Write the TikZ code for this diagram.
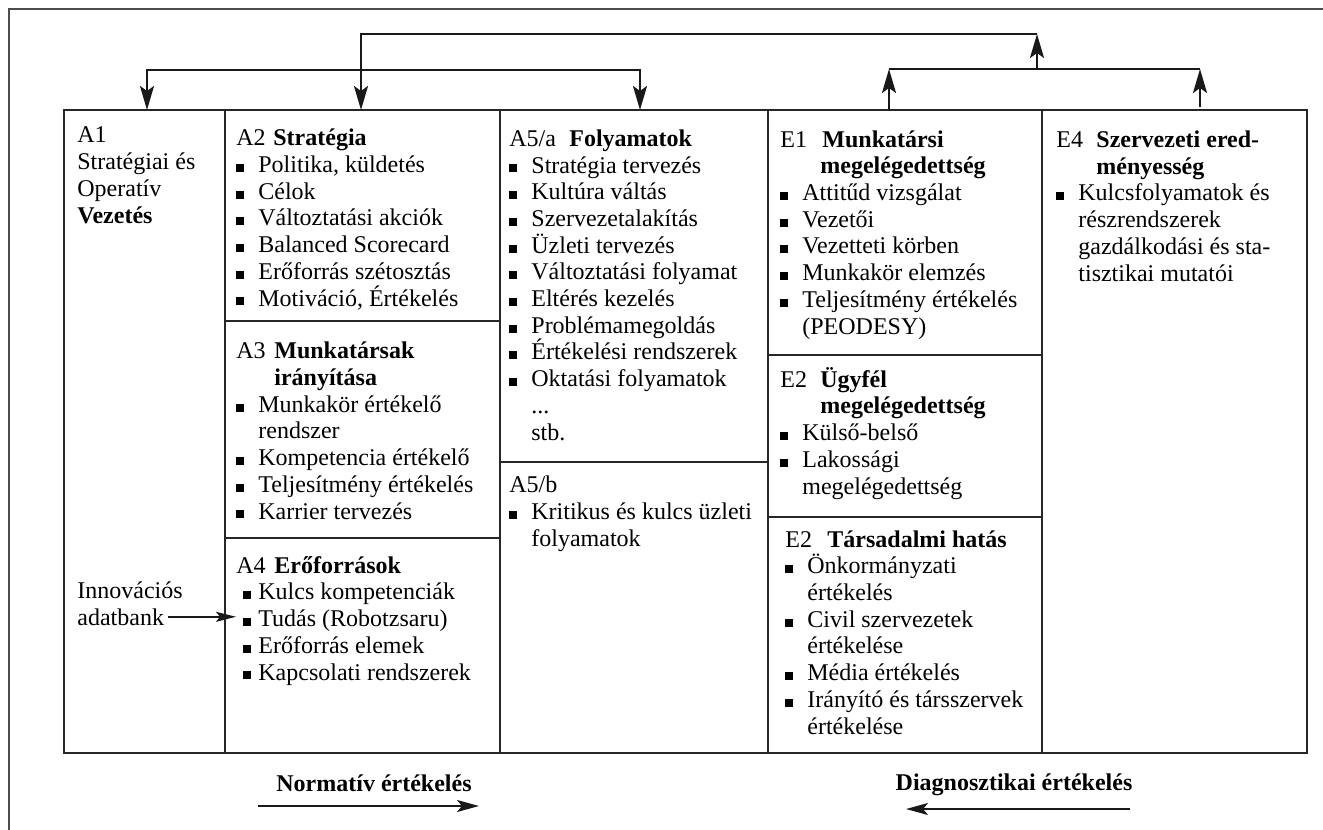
\documentclass[tikz,border=0pt]{standalone}
\usepackage{fontspec}
\setmainfont{Liberation Serif}
\usetikzlibrary{arrows.meta}

\newcommand\bul{\rule[0.3pt]{4pt}{4pt}}
\newcommand\itm{\makebox[11pt][l]{\bul}}
\newcommand\itmb{\hspace*{3.5pt}\makebox[7.5pt][l]{\bul}}
\newcommand\ind{\hspace*{11pt}}
\newcommand\cim[3]{\makebox[#1][l]{#2}\textbf{#3}}

\tikzset{
  % cells are placed at the baseline of their last line
  cell/.style={anchor=base west, inner sep=0pt, align=left, font=\fontsize{12}{13.35}\selectfont},
  tabline/.style={black!85, line width=0.55pt},
  bracket/.style={black!90, line width=1.2pt},
  uparrow/.style={bracket, -{Stealth[length=12pt,width=7pt,inset=2.5pt]}},
  evalarrow/.style={black!90, line width=1pt, -{Stealth[length=11pt,width=6pt,inset=2.5pt]}},
}

\begin{document}
\begin{tikzpicture}[x=0.5pt, y=-0.5pt]
  \useasboundingbox (0,0) rectangle (1323,830);

  % Outer frame (cut off at right and bottom)
  \draw[black!70, line width=0.8pt] (9,830) -- (9,9) -- (1323,9);

  % Table
  \draw[tabline] (64,110) rectangle (1307,753);
  \foreach \x in {225,500,768,1042}
    \draw[tabline] (\x,110) -- (\x,753);
  \draw[tabline] (225,321) -- (500,321);
  \draw[tabline] (225,538) -- (500,538);
  \draw[tabline] (500,462) -- (768,462);
  \draw[tabline] (768,355) -- (1042,355);
  \draw[tabline] (768,517) -- (1042,517);

  % Column A1
  \node[cell] (a1) at (77,223) {A1\\Stratégiai és\\Operatív\\\textbf{Vezetés}};
  \node[cell] (inno) at (77,598) {Innovációs};
  \node[cell] (adat) at (77,625) {adatbank};

  % Column A2--A4
  \node[cell] (a2) at (236,306) {\cim{18.5pt}{A2}{Stratégia}\\
    \itm Politika, küldetés\\
    \itm Célok\\
    \itm Változtatási akciók\\
    \itm Balanced Scorecard\\
    \itm Erőforrás szétosztás\\
    \itm Motiváció, Értékelés};
  \node[cell] (a3) at (236,519) {\cim{19pt}{A3}{Munkatársak}\\
    \hspace*{19pt}\textbf{irányítása}\\
    \itm Munkakör értékelő\\
    \ind rendszer\\
    \itm Kompetencia értékelő\\
    \itm Teljesítmény értékelés\\
    \itm Karrier tervezés};
  \node[cell] (a4) at (236,680) {\cim{19pt}{A4}{Erőforrások}\\
    \itmb Kulcs kompetenciák\\
    \itmb Tudás (Robotzsaru)\\
    \itmb Erőforrás elemek\\
    \itmb Kapcsolati rendszerek};

  % Column A5
  \node[cell] (a5a) at (509,440) {\cim{30pt}{A5/a}{Folyamatok}\\
    \itm Stratégia tervezés\\
    \itm Kultúra váltás\\
    \itm Szervezetalakítás\\
    \itm Üzleti tervezés\\
    \itm Változtatási folyamat\\
    \itm Eltérés kezelés\\
    \itm Problémamegoldás\\
    \itm Értékelési rendszerek\\
    \itm Oktatási folyamatok\\
    \ind ...\\
    \ind stb.};
  \node[cell] (a5b) at (509,546) {A5/b\\
    \itm Kritikus és kulcs üzleti\\
    \ind folyamatok};

  % Column E1--E3
  \node[cell] (e1) at (780,334) {\cim{21pt}{E1}{Munkatársi}\\
    \hspace*{20pt}\textbf{megelégedettség}\\
    \itm Attitűd vizsgálat\\
    \itm Vezetői\\
    \itm Vezetteti körben\\
    \itm Munkakör elemzés\\
    \itm Teljesítmény értékelés\\
    \ind (PEODESY)};
  \node[cell] (e2) at (780,494) {\cim{20pt}{E2}{Ügyfél}\\
    \hspace*{20pt}\textbf{megelégedettség}\\
    \itm Külső-belső\\
    \itm Lakossági\\
    \ind megelégedettség};
  \node[cell] (e3) at (785,734) {\cim{21pt}{E2}{Társadalmi hatás}\\
    \itm Önkormányzati\\
    \ind értékelés\\
    \itm Civil szervezetek\\
    \ind értékelése\\
    \itm Média értékelés\\
    \itm Irányító és társszervek\\
    \ind értékelése};

  % Column E4
  \node[cell] (e4) at (1056,281) {\cim{20pt}{E4}{Szervezeti ered-}\\
    \hspace*{20pt}\textbf{ményesség}\\
    \itm Kulcsfolyamatok és\\
    \ind részrendszerek\\
    \ind gazdálkodási és sta-\\
    \ind tisztikai mutatói};

  % Innovation input
  \draw[black!90, line width=0.8pt, -{Stealth[length=10pt,width=5pt,inset=2pt]}, shorten <=2pt]
    (adat.east) -- (adat.east -| a4.west);

  % Feedback arrows above the table
  \coordinate (t1) at (147,110);
  \coordinate (t2) at (361,110);
  \coordinate (t3) at (640,110);
  \coordinate (t4) at (889,110);
  \coordinate (t5) at (1200,107);
  \coordinate (hub) at (1037,69);
  \coordinate (top) at (1037,34);
  \draw[uparrow] (t4) -- (t4 |- hub);
  \draw[uparrow] (t5) -- (t5 |- hub);
  \draw[bracket] (t4 |- hub) -- (t5 |- hub);
  \draw[uparrow] (hub) -- (top);
  \draw[uparrow] (top) -| (t2);
  \draw[bracket, {Stealth[length=12pt,width=7pt,inset=2.5pt]}-{Stealth[length=12pt,width=7pt,inset=2.5pt]}]
    (t1) -- ++(0,-40) -| (t3);

  % Evaluation directions
  \node[font=\fontsize{12}{13.35}\selectfont\bfseries, anchor=base] (norm) at (374,791) {Normatív értékelés};
  \node[font=\fontsize{12}{13.35}\selectfont\bfseries, anchor=base] (diag) at (1014,790) {Diagnosztikai értékelés};
  \coordinate (n1) at (258,806);
  \coordinate (n2) at (479,806);
  \coordinate (d1) at (1130,809);
  \coordinate (d2) at (906,809);
  \draw[evalarrow] (n1) -- (n2);
  \draw[evalarrow] (d1) -- (d2);

\end{tikzpicture}
\end{document}
